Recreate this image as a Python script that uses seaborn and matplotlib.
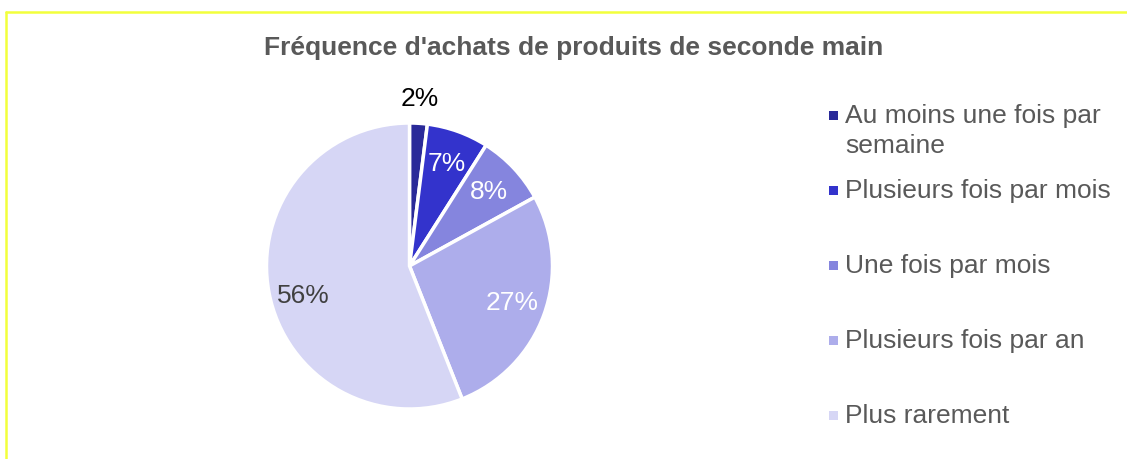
import matplotlib.pyplot as plt
import seaborn as sns
from matplotlib.patches import Rectangle
from matplotlib.lines import Line2D
import numpy as np

# data
categories = ["Au moins une fois par\nsemaine", "Plusieurs fois par mois",
              "Une fois par mois", "Plusieurs fois par an", "Plus rarement"]
shares = [2, 7, 8, 27, 56]
colors = ["#2A2A99", "#3333CC", "#8585DE", "#ADADEB", "#D6D6F5"]
label_colors = ["black", "white", "white", "white", "#404040"]
title = "Fréquence d'achats de produits de seconde main"

sns.set_theme(style="white")
plt.rcParams["font.family"] = ["Liberation Sans", "DejaVu Sans"]

W, H = 1127, 459
fig = plt.figure(figsize=(W / 100, H / 100), dpi=100)

# pie axes, centre (409.5, 266) px, radius 143 px
cx, cy, r = 409.5, 266, 143
ax = fig.add_axes([(cx - r) / W, (H - cy - r) / H, 2 * r / W, 2 * r / H])

wedges, texts, autotexts = ax.pie(
    shares, colors=colors, startangle=90, counterclock=False,
    autopct=lambda p: f"{p:.0f}%", pctdistance=0.76,
    wedgeprops=dict(edgecolor="white", linewidth=2.5),
    textprops=dict(fontsize=19))
ax.set_xlim(-1, 1)
ax.set_ylim(-1, 1)
ax.axis("off")

for t, c in zip(autotexts, label_colors):
    t.set_color(c)

# the smallest slice gets its label outside the pie
w0 = wedges[0]
mid = np.deg2rad((w0.theta1 + w0.theta2) / 2)
autotexts[0].set_position((1.17 * np.cos(mid), 1.17 * np.sin(mid)))
# nudge the big one a bit lower like the original
mid4 = np.deg2rad((wedges[4].theta1 + wedges[4].theta2) / 2 + 5)
autotexts[4].set_position((0.77 * np.cos(mid4), 0.77 * np.sin(mid4)))

fig.text(574 / W, 1 - 48 / H, title, ha="center", va="center",
         fontsize=19, fontweight="bold", color="#595959")

# legend, entries evenly spaced
for i, (lab, col) in enumerate(zip(categories, colors)):
    base = 123 + i * 75
    for j, line in enumerate(lab.split("\n")):
        fig.text(845 / W, 1 - (base + j * 30) / H, line, ha="left",
                 va="baseline", fontsize=19, color="#595959")
    fig.add_artist(Rectangle((829 / W, 1 - (base - 3) / H), 9 / W, 9 / H,
                             facecolor=col, edgecolor="none",
                             transform=fig.transFigure))

# yellow frame (top and left)
fig.add_artist(Line2D([6 / W, 1], [1 - 12 / H, 1 - 12 / H], color="#F2FF3C",
                      linewidth=1.8, transform=fig.transFigure))
fig.add_artist(Line2D([6 / W, 6 / W], [0, 1 - 12 / H], color="#F2FF3C",
                      linewidth=1.8, transform=fig.transFigure))

fig.savefig("out.png", dpi=100, facecolor="white")
